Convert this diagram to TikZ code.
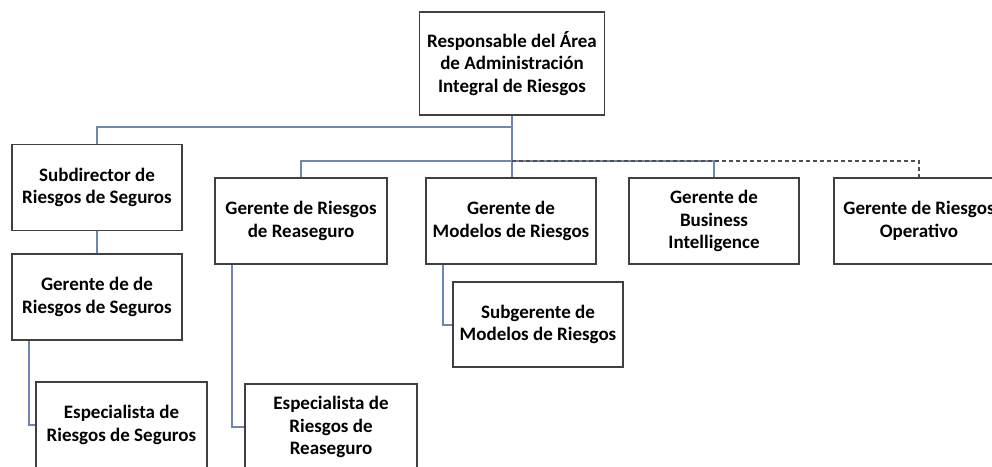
\documentclass[tikz,border=0pt]{standalone}
\usepackage{fontspec}
\setmainfont{Carlito}
\definecolor{boxgray}{HTML}{404040}
\definecolor{conblue}{HTML}{6F86B0}
\definecolor{dashgray}{HTML}{505050}
\begin{document}
\begin{tikzpicture}[x=1pt,y=-1pt,
  orgbox/.style={draw=boxgray,line width=1.3pt,fill=white,align=center,
    inner sep=0pt,minimum width=170pt,minimum height=86pt,
    font=\fontsize{19}{22.5}\selectfont\bfseries},
  conn/.style={draw=conblue,line width=2pt},
  dconn/.style={draw=dashgray,line width=1.3pt,dash pattern=on 4pt off 3pt}]
\useasboundingbox (0,0) rectangle (992,466);
\clip (0,0) rectangle (992,466);
\coordinate (h1) at (0,127);
\coordinate (h2) at (0,161);
\node[orgbox,minimum width=185pt,minimum height=103pt] (top) at (512,63.5) {Responsable del Área\\de Administración\\Integral de Riesgos};
\node[orgbox] (sub) at (97,187.5) {Subdirector de\\Riesgos de Seguros};
\node[orgbox] (ger1) at (97,297) {Gerente de de\\Riesgos de Seguros};
\node[orgbox,minimum width=171pt] (esp1) at (121.5,425) {Especialista de\\Riesgos de Seguros};
\node[orgbox,minimum width=172pt] (ger2) at (301,221) {Gerente de Riesgos\\de Reaseguro};
\node[orgbox] (ger3) at (511,221) {Gerente de\\Modelos de Riesgos};
\node[orgbox] (ger4) at (714,221) {Gerente de\\Business\\Intelligence};
\node[orgbox] (ger5) at (919,221) {Gerente de Riesgos\\Operativo};
\node[orgbox,minimum height=85pt] (subg) at (538,324.5) {Subgerente de\\Modelos de Riesgos};
\node[orgbox,minimum width=172pt] (esp2) at (331,427) {Especialista de\\Riesgos de\\Reaseguro};
\draw[conn] (top.south) -- (top.south |- h1) -| (sub.north);
\draw[conn] (top.south |- h1) -- (top.south |- ger3.north);
\draw[conn] (ger2.north) -- (ger2.north |- h2) -- (ger4.north |- h2) -- (ger4.north);
\draw[dconn] (top.south |- h2) -- (ger5.north |- h2) -- (ger5.north);
\draw[conn] (sub.south) -- (ger1.north);
\draw[conn] ([xshift=-68pt]ger1.south) |- (esp1.west);
\draw[conn] ([xshift=-69pt]ger2.south) |- (esp2.west);
\draw[conn] ([xshift=-68pt]ger3.south) |- (subg.west);
\end{tikzpicture}
\end{document}
